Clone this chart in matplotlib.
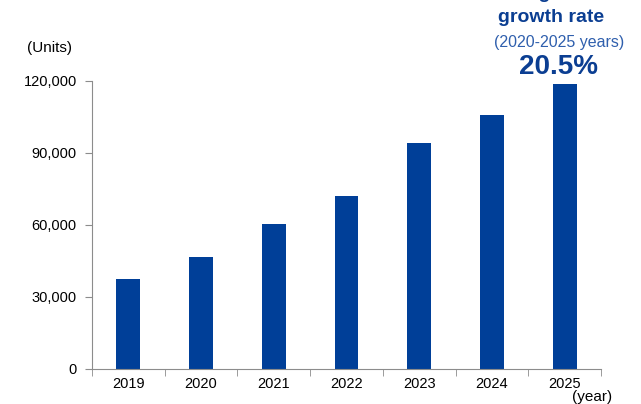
# Bar chart of annual units, 2019-2025, with growth-rate note
import numpy as np
import matplotlib.pyplot as plt
from matplotlib.ticker import FuncFormatter, FixedLocator

plt.rcParams['font.family'] = ['Liberation Sans', 'DejaVu Sans']

# Data
years = ['2019', '2020', '2021', '2022', '2023', '2024', '2025']
units = [37500, 46700, 60400, 72100, 94200, 105800, 118800]
cagr_label = '20.5%'

bar_color = '#003f98'
text_color = '#0b3e92'
axis_color = '#8c8c8c'

fig = plt.figure(figsize=(6.41, 4.04), dpi=100)
ax = fig.add_axes([92/641, 1 - 369/404, (601 - 92)/641, (369 - 81)/404])

x = np.arange(len(years))
ax.bar(x, units, width=0.33, color=bar_color, zorder=2)

ax.set_xlim(-0.5, len(years) - 0.5)
ax.set_ylim(0, 120000)
ax.set_yticks([0, 30000, 60000, 90000, 120000])
ax.yaxis.set_major_formatter(FuncFormatter(lambda v, p: f'{int(v):,}'))

ax.set_xticks(x)
ax.set_xticklabels(years)
ax.xaxis.set_minor_locator(FixedLocator(np.arange(-0.5, len(years), 1.0)))
ax.tick_params(axis='x', which='major', length=0, labelsize=10.5, pad=6)
ax.tick_params(axis='x', which='minor', length=5, color=axis_color, direction='out')
ax.tick_params(axis='y', length=5, color=axis_color, labelsize=10.5, pad=6)

for s in ['top', 'right']:
    ax.spines[s].set_visible(False)
for s in ['left', 'bottom']:
    ax.spines[s].set_color(axis_color)

fig.text(50/641, 1 - 48/404, '(Units)', ha='center', va='center', fontsize=11)
fig.text(592/641, 1 - 397/404, '(year)', ha='center', va='center', fontsize=11)

# growth-rate note above the last bar
cx = 557/641
fig.text(cx, 1 + 6/404, 'Average annual', ha='center', va='center',
         fontsize=14, fontweight='bold', color=text_color)
fig.text(cx - 6/641, 1 - 18/404, 'growth rate', ha='center', va='center',
         fontsize=14, fontweight='bold', color=text_color)
fig.text(cx + 2/641, 1 - 42/404, '(2020-2025 years)', ha='center', va='center',
         fontsize=11.5, color='#2f5fad')
fig.text(cx + 1/641, 1 - 67/404, cagr_label, ha='center', va='center',
         fontsize=20, fontweight='bold', color=text_color)

fig.savefig('out.png', dpi=100)
